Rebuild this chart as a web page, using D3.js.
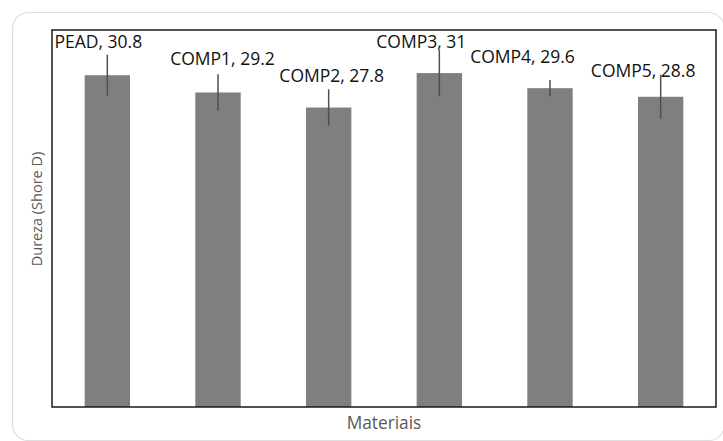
<!DOCTYPE html>
<html>
<head>
<meta charset="utf-8">
<script src="https://cdn.jsdelivr.net/npm/d3@7"></script>
<style>
  body { margin: 0; background: #fff; }
  text { font-family: "Open Sans", sans-serif; }
</style>
</head>
<body>
<div id="chart"></div>
<script>
// Datos del grafico
const materiales = ["PEAD", "COMP1", "COMP2", "COMP3", "COMP4", "COMP5"];
const dureza = [30.8, 29.2, 27.8, 31, 29.6, 28.8];
const desvio = [1.9, 1.7, 1.7, 2.15, 0.75, 2.05];

// Desplazamiento manual de las etiquetas (como en el original)
const etiquetaDx = [-9, 4.5, 3, -18, -27.5, -17.5];
const etiquetaDy = [-27, -27, -25.5, -25.5, -25.5, -20];

const W = 723, H = 441;
const plot = {left: 52, top: 30, right: 716, bottom: 407};

const svg = d3.select("#chart").append("svg")
    .attr("width", W)
    .attr("height", H);

// Tarjeta de fondo
svg.append("rect")
    .attr("x", 12.5).attr("y", 12.5)
    .attr("width", 712).attr("height", 428)
    .attr("rx", 16)
    .attr("fill", "#fff")
    .attr("stroke", "#dedede")
    .attr("stroke-width", 1.2);

// Escalas
const x = d3.scaleBand()
    .domain(materiales)
    .range([plot.left, plot.right])
    .paddingInner(0.59)
    .paddingOuter(0.295);

const y = d3.scaleLinear()
    .domain([0, 35])
    .range([plot.bottom, plot.top]);

// Barras
svg.append("g").selectAll("rect")
    .data(materiales)
    .join("rect")
    .attr("x", d => x(d))
    .attr("y", (d, i) => y(dureza[i]))
    .attr("width", x.bandwidth())
    .attr("height", (d, i) => y(0) - y(dureza[i]))
    .attr("fill", "#7f7f7f");

// Barras de error
svg.append("g").selectAll("line")
    .data(materiales)
    .join("line")
    .attr("x1", d => x(d) + x.bandwidth() / 2)
    .attr("x2", d => x(d) + x.bandwidth() / 2)
    .attr("y1", (d, i) => y(dureza[i] + desvio[i]))
    .attr("y2", (d, i) => y(dureza[i] - desvio[i]))
    .attr("stroke", "#4f4f4f")
    .attr("stroke-width", 1.5);

// Marco del area del grafico
svg.append("rect")
    .attr("x", plot.left).attr("y", plot.top)
    .attr("width", plot.right - plot.left)
    .attr("height", plot.bottom - plot.top)
    .attr("fill", "none")
    .attr("stroke", "#1a1a1a")
    .attr("stroke-width", 1.5);

// Etiquetas de datos
svg.append("g").selectAll("text")
    .data(materiales)
    .join("text")
    .attr("x", (d, i) => x(d) + x.bandwidth() / 2 + etiquetaDx[i])
    .attr("y", (d, i) => y(dureza[i]) + etiquetaDy[i])
    .attr("text-anchor", "middle")
    .attr("font-size", "17.5px")
    .attr("fill", "#111")
    .text((d, i) => d + ", " + dureza[i]);

// Titulos de los ejes
svg.append("text")
    .attr("x", (plot.left + plot.right) / 2)
    .attr("y", 429)
    .attr("text-anchor", "middle")
    .attr("font-size", "17.3px")
    .attr("fill", "#595959")
    .text("Materiais");

svg.append("text")
    .attr("transform", "translate(42,209) rotate(-90)")
    .attr("text-anchor", "middle")
    .attr("font-size", "14.5px")
    .attr("fill", "#595959")
    .text("Dureza (Shore D)");
</script>
</body>
</html>
